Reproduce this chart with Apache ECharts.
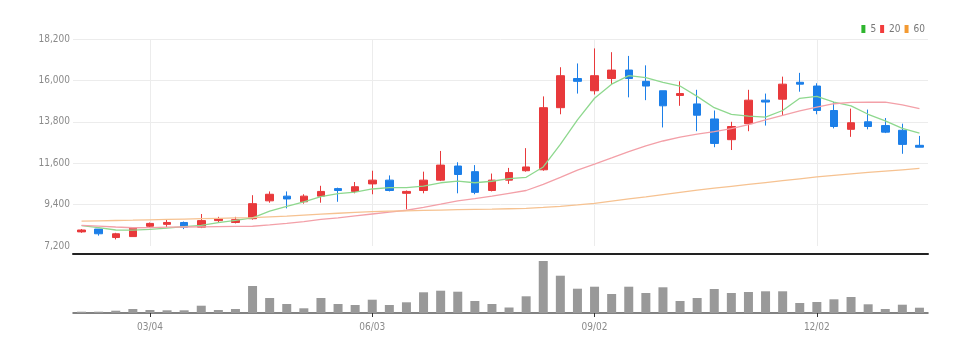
<!DOCTYPE html>
<html>
<head>
<meta charset="utf-8">
<script src="https://cdn.jsdelivr.net/npm/echarts@6/dist/echarts.min.js"></script>
<style>
  html, body { margin: 0; padding: 0; background: #fff; }
  #chart { width: 976px; height: 352px; }
</style>
</head>
<body>
<div id="chart"></div>
<script>
// 주봉 날짜 (weekly)
var dates = ['02/04','02/11','02/18','02/25','03/04','03/11','03/18','03/25','04/01','04/08',
  '04/15','04/22','04/29','05/06','05/13','05/20','05/27','06/03','06/10','06/17',
  '06/24','07/01','07/08','07/15','07/22','07/29','08/05','08/12','08/19','08/26',
  '09/02','09/09','09/16','09/23','09/30','10/07','10/14','10/21','10/28','11/04',
  '11/11','11/18','11/25','12/02','12/09','12/16','12/23','12/30','01/06','01/13'];

// 눈금 라벨
var tickLabels = ['03/04', '06/03', '09/02', '12/02'];

// 시가, 종가, 저가, 고가
var opens  = [7950,8100,7650,7700,8250,8350,8450,8200,8550,8450,8650,9600,9850,9550,9850,10250,10100,10500,10700,10000,
  10150,10700,11450,11150,10150,10700,11200,11250,14550,16100,15450,16100,16550,15950,15450,15200,14750,13950,12850,13700,
  14950,15000,15900,15700,14400,13400,13800,13600,13350,12550];
var closes = [8050,7850,7850,8150,8400,8450,8200,8550,8650,8600,9450,9950,9700,9850,10100,10150,10350,10700,10150,10100,
  10700,11500,11000,10050,10700,11100,11400,14550,16250,15950,16250,16550,16100,15700,14650,15300,14150,12650,13550,14950,
  14850,15800,15800,14400,13550,13750,13550,13250,12600,12450];
var lows   = [7900,7750,7550,7700,8150,8200,8100,8150,8450,8400,8600,9500,9200,9450,9500,9550,10000,9950,10100,9150,
  10000,10650,10000,9950,10100,10500,11150,11200,14200,15300,15250,15800,15100,14950,13500,14650,13300,12450,12300,13300,
  13600,14150,15400,14200,13450,13000,13400,13200,12100,12450];
var highs  = [8100,8100,7900,8150,8450,8600,8500,8900,8750,8750,9900,10100,10100,9950,10400,10300,10600,11200,10950,10150,
  11150,12250,11650,11500,11050,11350,12400,15150,16700,16900,17700,17500,17300,16800,15450,15950,15500,14400,13800,15500,
  15300,16200,16400,15850,14850,14500,14450,14000,13700,13050];

// 이동평균선 5 / 20 / 60
var ma5  = [8280,8180,8050,8040,8080,8150,8230,8300,8440,8560,8700,9050,9300,9550,9820,9980,10060,10230,10300,10300,
  10380,10560,10650,10560,10640,10780,10850,11400,12600,13900,15050,15800,16250,16150,15900,15700,15150,14550,14200,14100,
  14050,14400,15050,15150,14850,14650,14200,13850,13450,13200];
var ma20 = [8300,8260,8210,8170,8180,8200,8210,8220,8230,8240,8250,8320,8400,8500,8620,8700,8800,8900,9000,9100,
  9250,9420,9600,9720,9850,10000,10150,10480,10850,11230,11550,11880,12220,12520,12780,12990,13140,13280,13440,13650,
  13900,14140,14380,14580,14760,14830,14850,14840,14700,14500];
var ma60 = [8520,8540,8555,8570,8590,8610,8630,8650,8670,8690,8710,8750,8790,8840,8890,8940,8990,9030,9050,9070,
  9090,9110,9130,9145,9160,9180,9200,9250,9310,9380,9460,9580,9700,9810,9930,10050,10170,10270,10370,10470,
  10570,10670,10770,10870,10950,11030,11110,11180,11250,11320];

// 거래량
var volumes = [13000,13000,23000,40000,30000,27000,27000,73000,30000,40000,
  270000,150000,90000,47000,150000,90000,80000,133000,80000,107000,
  207000,223000,213000,120000,90000,55000,167000,520000,373000,243000,
  263000,190000,263000,200000,257000,120000,150000,240000,200000,210000,
  217000,217000,100000,110000,137000,160000,87000,40000,83000,53000];

var candleData = [];
for (var i = 0; i < dates.length; i++) {
  candleData.push([opens[i], closes[i], lows[i], highs[i]]);
}

var showTick = function (idx, val) {
  return tickLabels.indexOf(val) >= 0;
};

var axisFont = "'Liberation Sans Narrow', 'DejaVu Sans Condensed', Roboto, sans-serif";

var chart = echarts.init(document.getElementById('chart'));
var option = {
  animation: false,
  legend: {
    right: 46,
    top: 19,
    itemWidth: 4,
    itemHeight: 8,
    itemGap: 4,
    icon: 'rect',
    textStyle: { color: '#777', fontSize: 10, fontFamily: axisFont },
    data: [
      { name: '5', itemStyle: { color: '#2fb52f' } },
      { name: '20', itemStyle: { color: '#f23c3c' } },
      { name: '60', itemStyle: { color: '#f39a32' } }
    ]
  },
  grid: [
    { left: 73, right: 48, top: 39, height: 207 },
    { left: 73, right: 48, top: 258, height: 55 }
  ],
  xAxis: [
    {
      type: 'category',
      gridIndex: 0,
      data: dates,
      boundaryGap: true,
      offset: 8,
      axisLine: { show: true, onZero: false, lineStyle: { color: '#222', width: 2 } },
      axisTick: { show: false },
      axisLabel: { show: false },
      splitLine: {
        show: true,
        interval: showTick,
        alignWithLabel: true,
        lineStyle: { color: '#ececec', width: 1 }
      }
    },
    {
      type: 'category',
      gridIndex: 1,
      data: dates,
      boundaryGap: true,
      axisLine: { show: true, onZero: false, lineStyle: { color: '#5a5a5a', width: 1.5 } },
      axisTick: {
        show: true,
        interval: showTick,
        alignWithLabel: true,
        length: 4,
        lineStyle: { color: '#333' }
      },
      axisLabel: {
        interval: showTick,
        color: '#8a8a8a',
        fontSize: 10,
        fontFamily: axisFont,
        margin: 9
      },
      splitLine: { show: false }
    }
  ],
  yAxis: [
    {
      type: 'value',
      gridIndex: 0,
      min: 7200,
      max: 18200,
      interval: 2200,
      axisLine: { show: false },
      axisTick: { show: false },
      axisLabel: {
        color: '#8a8a8a',
        fontSize: 10,
        fontFamily: axisFont,
        margin: 3,
        formatter: function (v) {
          return String(v).replace(/\B(?=(\d{3})+(?!\d))/g, ',');
        }
      },
      splitLine: { show: true, showMinLine: false, lineStyle: { color: '#ececec' } }
    },
    {
      type: 'value',
      gridIndex: 1,
      min: 0,
      max: 550000,
      show: false,
      splitLine: { show: false }
    }
  ],
  series: [
    {
      name: 'candle',
      type: 'candlestick',
      xAxisIndex: 0,
      yAxisIndex: 0,
      barWidth: 8,
      itemStyle: {
        color: '#e8393b',
        color0: '#1c7fe8',
        borderColor: '#e8393b',
        borderColor0: '#1c7fe8',
        borderWidth: 1
      },
      data: candleData
    },
    {
      name: '5',
      type: 'line',
      xAxisIndex: 0,
      yAxisIndex: 0,
      symbol: 'none',
      lineStyle: { color: '#8ed88e', width: 1.3 },
      itemStyle: { color: '#2fb52f' },
      data: ma5
    },
    {
      name: '20',
      type: 'line',
      xAxisIndex: 0,
      yAxisIndex: 0,
      symbol: 'none',
      lineStyle: { color: '#f3a0a8', width: 1.3 },
      itemStyle: { color: '#f23c3c' },
      data: ma20
    },
    {
      name: '60',
      type: 'line',
      xAxisIndex: 0,
      yAxisIndex: 0,
      symbol: 'none',
      lineStyle: { color: '#f6c291', width: 1.3 },
      itemStyle: { color: '#f39a32' },
      data: ma60
    },
    {
      name: 'volume',
      type: 'bar',
      xAxisIndex: 1,
      yAxisIndex: 1,
      barWidth: 9,
      itemStyle: { color: '#999' },
      data: volumes
    }
  ]
};
chart.setOption(option);
</script>
</body>
</html>
